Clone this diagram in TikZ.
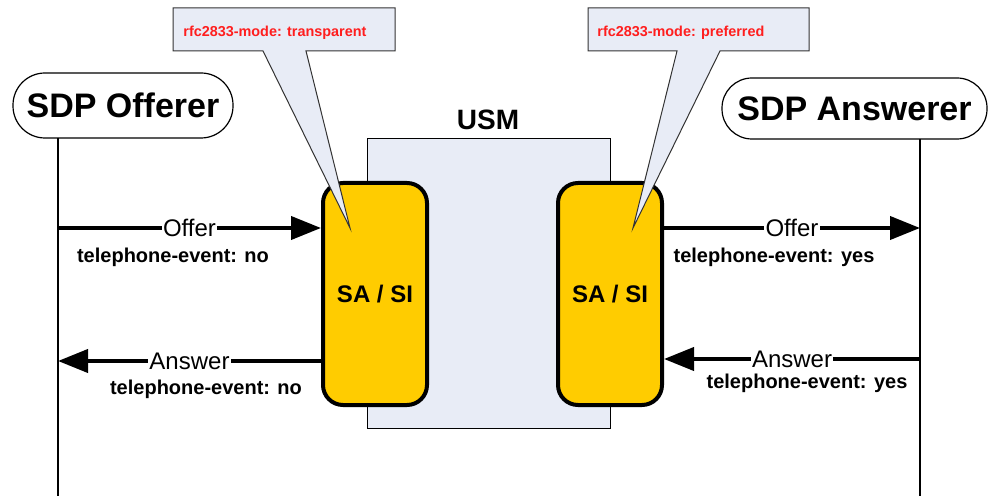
\documentclass[tikz,border=0pt]{standalone}
\usepackage{fontspec}
\setmainfont{Liberation Sans}
\usetikzlibrary{arrows.meta,positioning}
\definecolor{usmfill}{RGB}{232,236,246}
\definecolor{sagold}{RGB}{255,204,0}
\definecolor{noteRed}{RGB}{255,30,30}

\begin{document}
\begin{tikzpicture}[x=0.5pt, y=-0.5pt,
  party/.style={draw, line width=0.6pt, align=center, inner sep=0pt, font=\fontsize{17}{20}\selectfont\bfseries},
  sabox/.style={draw, line width=2pt, rounded corners=10pt, fill=sagold, minimum width=52pt, minimum height=111pt, font=\fontsize{12}{14}\selectfont\bfseries},
  note/.style={draw=black!80, line width=0.5pt, fill=usmfill},
  notetext/.style={text=noteRed, anchor=west, inner sep=0pt, font=\fontsize{7.2}{9}\selectfont\bfseries},
  lifeline/.style={line width=0.75pt},
  msg/.style={line width=2pt, -{Triangle[length=15pt, width=11.5pt]}},
  msglabel/.style={fill=white, inner sep=0.6pt, font=\fontsize{12}{14}\selectfont},
  sdp/.style={inner sep=0pt, font=\fontsize{10}{12}\selectfont\bfseries}
]
\useasboundingbox (0,0) rectangle (988,496);

% USM with its two SA/SI
\draw[fill=usmfill, line width=0.5pt] (367,139) rectangle (610,428);
\node[font=\fontsize{14}{16}\selectfont\bfseries] (usm) at (488,120) {USM};
\node[sabox] (saL) at (375,294) {SA / SI};
\node[sabox] (saR) at (610,294) {SA / SI};

% callouts
\draw[note] (173,8) -- (395,8) -- (395,51) -- (306,51) -- (350,228) -- (263,51) -- (173,51) -- cycle;
\node[notetext] (modeL) at (183,33) {rfc2833-mode: transparent};
\draw[note] (588,8) -- (809,8) -- (809,51) -- (720,51) -- (633,228) -- (677,51) -- (588,51) -- cycle;
\node[notetext] (modeR) at (597,33) {rfc2833-mode: preferred};

% end points
\node[party, rounded corners=16pt, minimum width=110pt, minimum height=32.5pt] (offerer) at (123,105.5) {SDP Offerer};
\node[party, rounded corners=15pt, minimum width=132.5pt, minimum height=30.5pt] (answerer) at (854.5,108.5) {SDP Answerer};

\coordinate (offTop) at (58,138);
\coordinate (offEnd) at (58,496);
\coordinate (ansTop) at (920,139);
\coordinate (ansEnd) at (920,496);
\draw[lifeline] (offTop) -- (offEnd);
\draw[lifeline] (ansTop) -- (ansEnd);

% messages
\coordinate (offerOut) at (58,228);
\coordinate (answerIn) at (58,361);
\coordinate (offerIn) at (920,228);
\coordinate (answerOut) at (920,359);

\draw[msg] (offerOut) -- (offerOut -| saL.west) node[msglabel, midway] (offerL) {Offer};
\draw[msg] (answerIn -| saL.west) -- (answerIn) node[msglabel, midway] (answerL) {Answer};
\draw[msg] (offerIn -| saR.east) -- (offerIn) node[msglabel, midway] (offerR) {Offer};
\draw[msg] (answerOut) -- (answerOut -| saR.east) node[msglabel, midway] (answerR) {Answer};

\node[sdp] (teOfferL) at (173,257) {telephone-event: no};
\node[sdp] (teAnswerL) at (206,389) {telephone-event: no};
\node[sdp] (teOfferR) at (774,257) {telephone-event: yes};
\node[sdp] (teAnswerR) at (807,383) {telephone-event: yes};
\end{tikzpicture}
\end{document}
